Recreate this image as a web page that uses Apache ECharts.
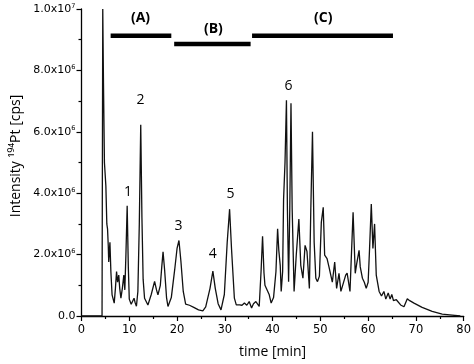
<!DOCTYPE html>
<html>
<head>
<meta charset="utf-8">
<script src="https://cdn.jsdelivr.net/npm/echarts@6/dist/echarts.min.js"></script>
<style>
html,body{margin:0;padding:0;background:#fff;}
#chart{width:474px;height:364px;}
</style>
</head>
<body>
<div id="chart"></div>
<script>
// Chromatogram trace: retention time [min] and intensity [cps]
const times = [
  0, 4.3, 4.45, 4.6, 4.8, 5.1, 5.3, 5.45, 5.6, 5.7, 5.95, 6.15, 6.4, 6.85,
  7.1, 7.34, 7.55, 7.8, 8.0, 8.25, 8.55, 8.86, 9.07, 9.3, 9.56, 9.8, 10.0,
  10.4, 10.8, 11.0, 11.2, 11.5, 11.8, 12.1, 12.4, 12.65, 12.9, 13.2, 13.9,
  14.6, 15.3, 15.7, 16.0, 16.5, 16.8, 17.07, 17.4, 17.8, 18.1, 18.8, 19.5,
  20.0, 20.4, 20.8, 21.3, 21.8, 22.6, 23.5, 24.5, 25.4, 26.0, 26.4, 26.9,
  27.5, 28.0, 28.6, 29.2, 29.9, 30.5, 31.0, 31.4, 32.0, 32.4, 33.1, 33.6,
  34.1, 34.6, 35.1, 35.6, 36.0, 36.5, 37.2, 37.6, 37.9, 38.2, 38.4, 39.3,
  39.7, 40.2, 40.7, 41.05, 41.3, 41.6, 41.8, 42.1, 42.3, 42.6, 42.9, 43.1,
  43.35, 43.6, 43.85, 44.1, 44.5, 44.95, 45.5, 45.9, 46.35, 46.8, 47.2,
  47.7, 48.0, 48.35, 48.7, 49.05, 49.4, 49.8, 50.2, 50.6, 50.9, 51.4, 51.8,
  52.2, 52.5, 53.0, 53.4, 53.9, 54.3, 54.6, 55.3, 55.6, 56.2, 56.5, 56.85,
  57.3, 57.6, 58.1, 58.35, 58.8, 59.2, 59.6, 60.0, 60.3, 60.66, 61.0, 61.35,
  61.7, 62.3, 62.8, 63.3, 63.7, 64.2, 64.6, 64.95, 65.3, 65.9, 66.8, 67.5,
  68.2, 68.7, 69.6, 71.3, 73.4, 75.5, 77.6, 79.3
];
const intensity = [
  0, 0, 1.0e7, 7.6e6, 5.0e6, 4.24e6, 3.0e6, 2.84e6, 2.3e6, 1.76e6, 2.4e6, 1.44e6, 0.69e6, 0.42e6,
  0.9e6, 1.45e6, 1.1e6, 1.33e6, 0.9e6, 0.58e6, 0.9e6, 1.33e6, 0.85e6, 2.0e6, 3.59e6, 1.6e6, 0.55e6,
  0.38e6, 0.35e6, 0.58e6, 0.45e6, 0.32e6, 0.8e6, 3.0e6, 6.23e6, 3.2e6, 1.2e6, 0.58e6, 0.36e6,
  0.7e6, 1.13e6, 0.85e6, 0.69e6, 1.0e6, 1.6e6, 2.09e6, 1.5e6, 0.6e6, 0.31e6, 0.6e6, 1.5e6,
  2.2e6, 2.46e6, 1.8e6, 0.8e6, 0.39e6, 0.35e6, 0.28e6, 0.2e6, 0.17e6, 0.3e6, 0.35e6, 0.9e6,
  1.46e6, 0.9e6, 0.4e6, 0.2e6, 0.7e6, 2.4e6, 3.48e6, 2.2e6, 0.58e6, 0.36e6, 0.36e6, 0.35e6,
  0.42e6, 0.35e6, 0.47e6, 0.26e6, 0.4e6, 0.47e6, 0.31e6, 1.5e6, 2.6e6, 1.4e6, 1.0e6, 0.69e6,
  0.42e6, 0.6e6, 1.44e6, 2.84e6, 2.14e6, 1.65e6, 0.8e6, 1.44e6, 3.8e6, 5.0e6, 7.03e6, 3.5e6,
  1.12e6, 3.5e6, 6.93e6, 3.48e6, 0.8e6, 1.98e6, 3.16e6, 1.65e6, 1.23e6, 2.3e6, 2.1e6,
  0.9e6, 3.48e6, 6.0e6, 2.4e6, 1.23e6, 1.12e6, 1.3e6, 3.05e6, 3.54e6, 1.98e6, 1.87e6, 1.6e6,
  1.65e6, 1.1e6, 1.76e6, 0.9e6, 1.39e6, 0.8e6, 0.8e6, 1.33e6, 1.4e6, 0.8e6, 2.0e6, 3.38e6,
  1.39e6, 1.7e6, 2.14e6, 1.6e6, 1.23e6, 1.1e6, 0.9e6, 1.1e6, 2.2e6, 3.65e6, 2.2e6, 3.0e6,
  1.33e6, 0.8e6, 0.65e6, 0.8e6, 0.55e6, 0.75e6, 0.55e6, 0.7e6, 0.5e6, 0.53e6, 0.36e6, 0.3e6,
  0.56e6, 0.5e6, 0.42e6, 0.28e6, 0.15e6, 0.06e6, 0.03e6, 0.0
];

// Fraction bars (A), (B), (C)
const fractionNames = ['(A)', '(B)', '(C)'];
const fractionStart = [6.1, 19.4, 35.7];
const fractionEnd = [18.8, 35.4, 65.2];
const fractionLevel = [9.13e6, 8.86e6, 9.13e6];
const fractionLabelTime = [12.35, 27.6, 50.6];
const fractionLabelLevel = [9.72e6, 9.35e6, 9.72e6];

// Peak numbers
const peakNames = ['1', '2', '3', '4', '5', '6'];
const peakLabelTime = [9.76, 12.35, 20.3, 27.5, 31.2, 43.35];
const peakLabelLevel = [4.03e6, 7.03e6, 2.94e6, 2.03e6, 3.97e6, 7.48e6];

// Axes
const xMin = 0, xMax = 80, xStep = 10;
const yMin = 0, yMax = 1.0e7, yStep = 2.0e6;

const trace = times.map((t, i) => [t, intensity[i]]);

const series = [{
  type: 'line',
  data: trace,
  symbol: 'none',
  lineStyle: { color: '#111', width: 1.3 },
  clip: false,
  z: 3
}];

fractionNames.forEach((n, i) => {
  series.push({
    type: 'line',
    data: [[fractionStart[i], fractionLevel[i]], [fractionEnd[i], fractionLevel[i]]],
    symbol: 'none',
    lineStyle: { color: '#000', width: 4.5, cap: 'butt' },
    z: 4
  });
});

const labelBase = {
  show: true, position: 'inside', formatter: p => p.name,
  color: '#000', opacity: 1, textBorderWidth: 0, textBorderColor: 'transparent',
  fontFamily: "'Open Sans', 'DejaVu Sans', sans-serif"
};

series.push({
  type: 'scatter',
  data: fractionNames.map((n, i) => ({ value: [fractionLabelTime[i], fractionLabelLevel[i]], name: n })),
  symbolSize: 0,
  itemStyle: { color: '#000', opacity: 1 },
  label: Object.assign({}, labelBase, { fontWeight: 'bold', fontSize: 14 }),
  z: 5
});

series.push({
  type: 'scatter',
  data: peakNames.map((n, i) => ({ value: [peakLabelTime[i], peakLabelLevel[i]], name: n })),
  symbolSize: 0,
  itemStyle: { color: '#000', opacity: 1 },
  label: Object.assign({}, labelBase, { fontSize: 14 }),
  z: 5
});

function yFmt(v) {
  if (v === 0) return '{a|0.0}';
  const e = Math.floor(Math.log10(v) + 1e-9);
  const m = v / Math.pow(10, e);
  return '{a|' + m.toFixed(1) + 'x10}{s|' + e + '}';
}

const chart = echarts.init(document.getElementById('chart'), null, { renderer: 'canvas' });
chart.setOption({
  animation: false,
  backgroundColor: '#fff',
  grid: { left: 81.5, right: 9, top: 9, bottom: 46, containLabel: false },
  xAxis: {
    type: 'value', min: xMin, max: xMax, interval: xStep,
    name: 'time [min]', nameLocation: 'middle', nameGap: 29,
    nameTextStyle: { fontFamily: "'Open Sans', 'DejaVu Sans', sans-serif", fontSize: 14, color: '#000' },
    axisLine: { show: true, onZero: false, lineStyle: { color: '#000', width: 1.3 } },
    axisTick: { show: true, length: 5, lineStyle: { color: '#000', width: 1.2 } },
    minorTick: { show: true, splitNumber: 2, length: 3, lineStyle: { color: '#000', width: 1.2 } },
    axisLabel: { color: '#000', fontFamily: "'DejaVu Sans', sans-serif", fontSize: 11.5, margin: 8 },
    splitLine: { show: false }
  },
  yAxis: {
    type: 'value', min: yMin, max: yMax, interval: yStep,
    axisLine: { show: true, onZero: false, lineStyle: { color: '#000', width: 1.3 } },
    axisTick: { show: true, length: 5, lineStyle: { color: '#000', width: 1.2 } },
    minorTick: { show: true, splitNumber: 2, length: 3, lineStyle: { color: '#000', width: 1.2 } },
    axisLabel: {
      color: '#000', margin: 6, formatter: yFmt,
      rich: {
        a: { fontFamily: "'DejaVu Sans', sans-serif", fontSize: 11, color: '#000' },
        s: { fontFamily: "'DejaVu Sans', sans-serif", fontSize: 6.5, color: '#000', verticalAlign: 'top', padding: [0, 0, 6, 0] }
      }
    },
    splitLine: { show: false }
  },
  graphic: [{
    type: 'text',
    x: 16, y: 156,
    rotation: Math.PI / 2,
    style: {
      text: 'Intensity ¹⁹⁴Pt [cps]',
      fontFamily: "'Open Sans', 'DejaVu Sans', sans-serif",
      fontSize: 14, fill: '#000',
      align: 'center', verticalAlign: 'middle'
    }
  }],
  series: series
});
</script>
</body>
</html>
